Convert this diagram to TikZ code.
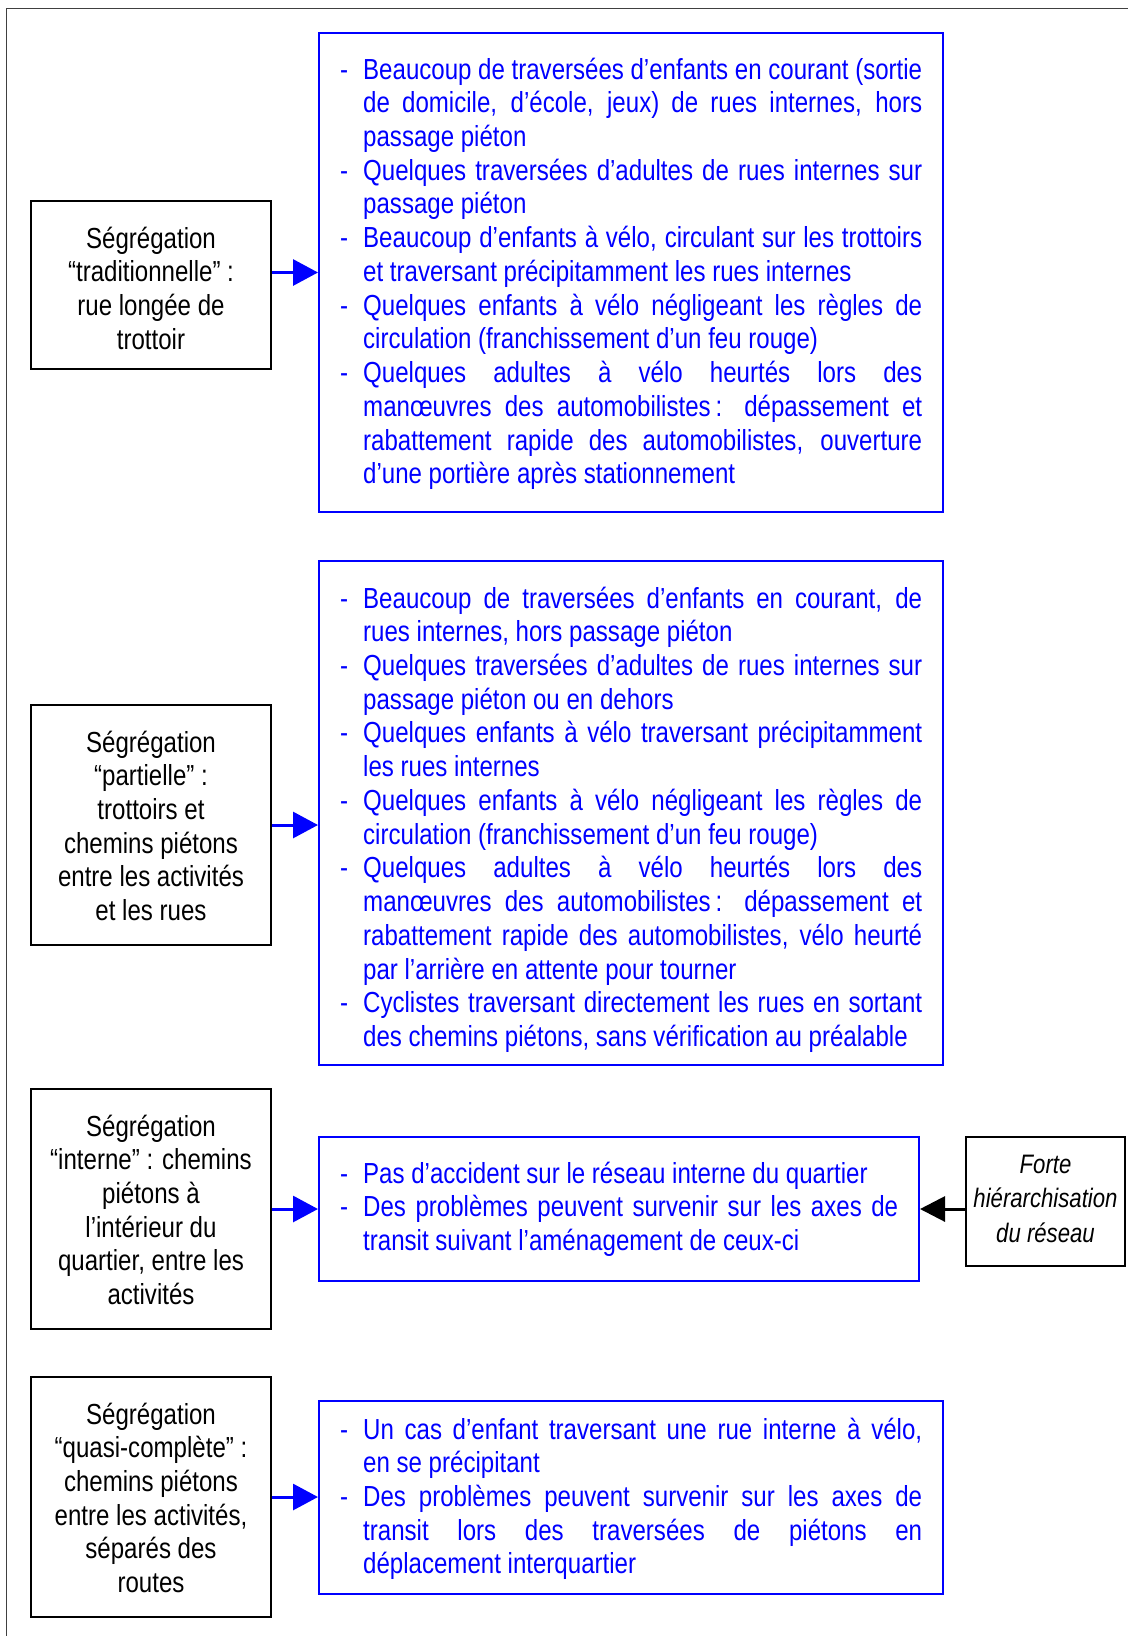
\documentclass[tikz,border=0pt]{standalone}
\usepackage{fontspec}
\setmainfont[FakeStretch=0.83]{Liberation Sans}
\usetikzlibrary{arrows.meta}
\definecolor{textblue}{RGB}{0,0,255}
\newlength{\jw}
\setlength{\jw}{559pt}
\newcommand{\FJ}[1]{\noindent\makebox[23pt][l]{-}\makebox[\jw][s]{#1}\par}
\newcommand{\FL}[1]{\noindent\makebox[23pt][l]{-}\mbox{#1}\par}
\newcommand{\MJ}[1]{\noindent\hspace*{23pt}\makebox[\jw][s]{#1}\par}
\newcommand{\LL}[1]{\noindent\hspace*{23pt}\mbox{#1}\par}
\tikzset{
  blackbox/.style={draw=black, line width=2pt, minimum width=240pt, minimum height=240pt, inner sep=0pt},
  bluebox/.style={draw=textblue, line width=2pt, inner sep=0pt},
  lefttext/.style={anchor=base, text width=236pt, align=flush center, inner sep=0pt, text=black,
    font=\fontsize{29}{33.7}\selectfont},
  bluetext/.style={anchor=base west, text width=582pt, align=flush left, inner sep=0pt, text=textblue,
    font=\fontsize{29}{33.74}\selectfont},
  bluearrow/.style={draw=textblue, line width=3pt, -{Triangle[length=25pt,width=26pt]}},
  blackarrow/.style={draw=black, line width=3pt, -{Triangle[length=25pt,width=25pt]}},
  frame/.style={draw=black!75, line width=1pt}
}
\begin{document}
\begin{tikzpicture}[x=1pt,y=-1pt]
\useasboundingbox (0,0) rectangle (1128,1636);
\draw[frame] (6,1636) -- (6,8) -- (1128,8);

% left boxes
\node[blackbox, minimum height=168pt] (L1) at (151,285) {};
\node[blackbox] (L2) at (151,825) {};
\node[blackbox] (L3) at (151,1209) {};
\node[blackbox] (L4) at (151,1497) {};

\node[lefttext] (T1) at (151,248) {\spaceskip=0pt\xspaceskip=0pt Ségrégation\\“traditionnelle” :\\rue longée de\\trottoir};
\node[lefttext] (T2) at (151,752) {\spaceskip=0pt\xspaceskip=0pt Ségrégation\\“partielle” :\\trottoirs et\\chemins piétons\\entre les activités\\et les rues};
\node[lefttext] (T3) at (151,1136) {\spaceskip=0pt\xspaceskip=0pt Ségrégation\\“interne” : chemins\\piétons à\\l’intérieur du\\quartier, entre les\\activités};
\node[lefttext] (T4) at (151,1424) {\spaceskip=0pt\xspaceskip=0pt Ségrégation\\“quasi-complète” :\\chemins piétons\\entre les activités,\\séparés des\\routes};

% blue boxes
\node[bluebox, minimum width=624pt, minimum height=479pt] (B1) at (631,272.5) {};
\node[bluebox, minimum width=624pt, minimum height=504pt] (B2) at (631,813) {};
\node[bluebox, minimum width=600pt, minimum height=144pt] (B3) at (619,1209) {};
\node[bluebox, minimum width=624pt, minimum height=193pt] (B4) at (631,1497.5) {};

\node[bluetext] (U1) at (340,79) {\spaceskip=0pt\xspaceskip=0pt
\FJ{Beaucoup de traversées d’enfants en courant (sortie}
\MJ{de domicile, d’école, jeux) de rues internes, hors}
\LL{passage piéton}
\FJ{Quelques traversées d’adultes de rues internes sur}
\LL{passage piéton}
\FJ{Beaucoup d’enfants à vélo, circulant sur les trottoirs}
\LL{et traversant précipitamment les rues internes}
\FJ{Quelques enfants à vélo négligeant les règles de}
\LL{circulation (franchissement d’un feu rouge)}
\FJ{Quelques adultes à vélo heurtés lors des}
\MJ{manœuvres des automobilistes\,: dépassement et}
\MJ{rabattement rapide des automobilistes, ouverture}
\LL{d’une portière après stationnement}};

\node[bluetext] (U2) at (340,608) {\spaceskip=0pt\xspaceskip=0pt
\FJ{Beaucoup de traversées d’enfants en courant, de}
\LL{rues internes, hors passage piéton}
\FJ{Quelques traversées d’adultes de rues internes sur}
\LL{passage piéton ou en dehors}
\FJ{Quelques enfants à vélo traversant précipitamment}
\LL{les rues internes}
\FJ{Quelques enfants à vélo négligeant les règles de}
\LL{circulation (franchissement d’un feu rouge)}
\FJ{Quelques adultes à vélo heurtés lors des}
\MJ{manœuvres des automobilistes\,: dépassement et}
\MJ{rabattement rapide des automobilistes, vélo heurté}
\LL{par l’arrière en attente pour tourner}
\FJ{Cyclistes traversant directement les rues en sortant}
\LL{des chemins piétons, sans vérification au préalable}};

\node[bluetext, text width=558pt] (U3) at (340,1183) {\spaceskip=0pt\xspaceskip=0pt
\setlength{\jw}{535pt}%
\FL{Pas d’accident sur le réseau interne du quartier}
\FJ{Des problèmes peuvent survenir sur les axes de}
\LL{transit suivant l’aménagement de ceux-ci}};

\node[bluetext] (U4) at (340,1439) {\spaceskip=0pt\xspaceskip=0pt
\FJ{Un cas d’enfant traversant une rue interne à vélo,}
\LL{en se précipitant}
\FJ{Des problèmes peuvent survenir sur les axes de}
\MJ{transit lors des traversées de piétons en}
\LL{déplacement interquartier}};

% right box
\node[draw=black, line width=2pt, minimum width=159pt, minimum height=129pt, inner sep=0pt] (R) at (1045.5,1201.5) {};
\node[anchor=base, text width=155pt, align=flush center, inner sep=0pt,
  font=\fontsize{26.7}{34.5}\selectfont\itshape] (RT) at (1045.5,1173) {\spaceskip=0pt\xspaceskip=0pt Forte\\hiérarchisation\\du réseau};

% arrows
\draw[bluearrow] (L1.east |- B1.west) -- (B1.west);
\draw[bluearrow] (L2.east) -- (L2.east -| B2.west);
\draw[bluearrow] (L3.east) -- (B3.west);
\draw[bluearrow] (L4.east) -- (L4.east -| B4.west);
\draw[blackarrow] (R.west |- B3.east) -- (B3.east);
\end{tikzpicture}
\end{document}
